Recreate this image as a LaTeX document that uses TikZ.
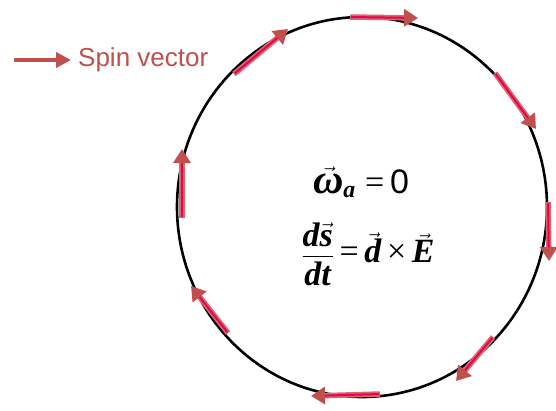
\documentclass[tikz,border=0pt]{standalone}
\usepackage{amsmath,amssymb}
\usepackage{fontspec}
\setmainfont{Liberation Serif}
\newfontfamily\legendfont{Liberation Sans}
\usetikzlibrary{arrows.meta,shapes.geometric}
\definecolor{spinbrown}{RGB}{192,80,77}
\definecolor{spinedge}{RGB}{214,104,104}
\definecolor{spinpink}{RGB}{236,0,84}
\tikzset{
  spinout/.style={draw=spinedge, line width=5.5pt, -{Triangle[length=14pt,width=17pt,fill=spinbrown,color=spinbrown]}},
  spininner/.style={draw=spinpink, line width=2pt, shorten >=14pt, shorten <=1pt},
  legendarrow/.style={draw=spinbrown, line width=4pt, -{Triangle[length=15pt,width=15pt]}},
  ring/.style={draw=black, line width=2.6pt},
  eqn/.style={inner sep=0pt}
}
\newcommand{\spinarrow}[2]{%
  \draw[spinout] (#1) -- (#2);
  \draw[spininner] (#1) -- (#2);
}
\newcommand{\bi}[1]{\text{\bfseries\itshape #1}}
\newcommand{\vv}[1]{\vec{\bi{#1}}}
\begin{document}
\begin{tikzpicture}[x=1pt,y=-1pt]
\useasboundingbox (0,0) rectangle (556,410);
\fill[white] (0,0) rectangle (556,410);
% ring
\node[ring, ellipse, minimum width=370pt, minimum height=380pt, inner sep=0pt] (ring) at (362,207) {};
% legend
\coordinate (ls) at (14,60);
\coordinate (le) at (71,60);
\draw[legendarrow] (ls) -- (le);
\node[anchor=west, inner sep=0pt, text=spinbrown, font=\legendfont\fontsize{26}{28}\selectfont] (legend) at (78,60) {Spin vector};
% spin vectors (clockwise)
\coordinate (s1) at (234,74);  \coordinate (e1) at (288,29);
\coordinate (s2) at (350,17);  \coordinate (e2) at (418,18);
\coordinate (s3) at (495,73);  \coordinate (e3) at (536,129);
\coordinate (s4) at (548,202); \coordinate (e4) at (549,261);
\coordinate (s5) at (493,337); \coordinate (e5) at (456,381);
\coordinate (s6) at (380,394); \coordinate (e6) at (311,396);
\coordinate (s7) at (228,333); \coordinate (e7) at (191,286);
\coordinate (s8) at (182,218); \coordinate (e8) at (182,149);
\spinarrow{s1}{e1}
\spinarrow{s2}{e2}
\spinarrow{s3}{e3}
\spinarrow{s4}{e4}
\spinarrow{s5}{e5}
\spinarrow{s6}{e6}
\spinarrow{s7}{e7}
\spinarrow{s8}{e8}
% equations
\node[eqn, font=\fontsize{34}{36}\selectfont] (eq1) at (361,182)
  {$\vec{\text{\fontsize{42}{42}\selectfont\bfseries\itshape ω}}_{\bi{a}}\text{\;=\,{\legendfont 0}}$};
\node[eqn, font=\fontsize{34}{36}\selectfont] (eq2) at (368,254)
  {$\dfrac{\bi{d}\vv{s}}{\bi{dt}}\text{\,=\,}\vv{d}\text{\,×\,}\vv{E}$};
\end{tikzpicture}
\end{document}
